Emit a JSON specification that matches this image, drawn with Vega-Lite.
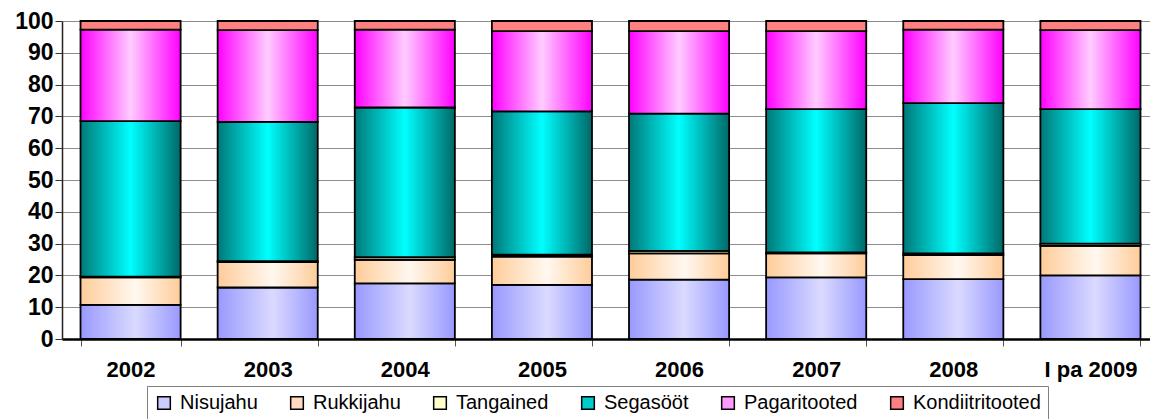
{
  "$schema": "https://vega.github.io/schema/vega-lite/v6.json",
  "autosize": {"type": "none"},
  "padding": {"left": 62, "top": 21, "right": 0, "bottom": 80},
  "width": 1088,
  "height": 318,
  "background": "white",
  "config": {
    "view": {"stroke": null},
    "font": "Liberation Sans"
  },
  "datasets": {
    "shares": [
      {"year": "2002", "series": "Nisujahu", "value": 10.7},
      {"year": "2002", "series": "Rukkijahu", "value": 8.7},
      {"year": "2002", "series": "Tangained", "value": 0.2},
      {"year": "2002", "series": "Segasööt", "value": 48.9},
      {"year": "2002", "series": "Pagaritooted", "value": 28.8},
      {"year": "2002", "series": "Kondiitritooted", "value": 2.7},
      {"year": "2003", "series": "Nisujahu", "value": 16.2},
      {"year": "2003", "series": "Rukkijahu", "value": 8.0},
      {"year": "2003", "series": "Tangained", "value": 0.3},
      {"year": "2003", "series": "Segasööt", "value": 43.8},
      {"year": "2003", "series": "Pagaritooted", "value": 28.8},
      {"year": "2003", "series": "Kondiitritooted", "value": 2.9},
      {"year": "2004", "series": "Nisujahu", "value": 17.5},
      {"year": "2004", "series": "Rukkijahu", "value": 7.4},
      {"year": "2004", "series": "Tangained", "value": 0.8},
      {"year": "2004", "series": "Segasööt", "value": 47.1},
      {"year": "2004", "series": "Pagaritooted", "value": 24.5},
      {"year": "2004", "series": "Kondiitritooted", "value": 2.7},
      {"year": "2005", "series": "Nisujahu", "value": 17.0},
      {"year": "2005", "series": "Rukkijahu", "value": 8.9},
      {"year": "2005", "series": "Tangained", "value": 0.6},
      {"year": "2005", "series": "Segasööt", "value": 45.1},
      {"year": "2005", "series": "Pagaritooted", "value": 25.2},
      {"year": "2005", "series": "Kondiitritooted", "value": 3.2},
      {"year": "2006", "series": "Nisujahu", "value": 18.7},
      {"year": "2006", "series": "Rukkijahu", "value": 8.2},
      {"year": "2006", "series": "Tangained", "value": 0.8},
      {"year": "2006", "series": "Segasööt", "value": 43.2},
      {"year": "2006", "series": "Pagaritooted", "value": 25.9},
      {"year": "2006", "series": "Kondiitritooted", "value": 3.2},
      {"year": "2007", "series": "Nisujahu", "value": 19.4},
      {"year": "2007", "series": "Rukkijahu", "value": 7.5},
      {"year": "2007", "series": "Tangained", "value": 0.3},
      {"year": "2007", "series": "Segasööt", "value": 45.1},
      {"year": "2007", "series": "Pagaritooted", "value": 24.5},
      {"year": "2007", "series": "Kondiitritooted", "value": 3.2},
      {"year": "2008", "series": "Nisujahu", "value": 18.8},
      {"year": "2008", "series": "Rukkijahu", "value": 7.6},
      {"year": "2008", "series": "Tangained", "value": 0.5},
      {"year": "2008", "series": "Segasööt", "value": 47.3},
      {"year": "2008", "series": "Pagaritooted", "value": 23.1},
      {"year": "2008", "series": "Kondiitritooted", "value": 2.7},
      {"year": "I pa 2009", "series": "Nisujahu", "value": 20.0},
      {"year": "I pa 2009", "series": "Rukkijahu", "value": 9.3},
      {"year": "I pa 2009", "series": "Tangained", "value": 0.7},
      {"year": "I pa 2009", "series": "Segasööt", "value": 42.3},
      {"year": "I pa 2009", "series": "Pagaritooted", "value": 24.8},
      {"year": "I pa 2009", "series": "Kondiitritooted", "value": 2.9}
    ],
    "seriesOrder": [
      {"series": "Nisujahu", "rank": 1},
      {"series": "Rukkijahu", "rank": 2},
      {"series": "Tangained", "rank": 3},
      {"series": "Segasööt", "rank": 4},
      {"series": "Pagaritooted", "rank": 5},
      {"series": "Kondiitritooted", "rank": 6}
    ]
  },
  "data": {"name": "shares"},
  "transform": [
    {
      "lookup": "series",
      "from": {"data": {"name": "seriesOrder"}, "key": "series", "fields": ["rank"]}
    },
    {
      "stack": "value",
      "groupby": ["year"],
      "sort": [{"field": "rank", "order": "ascending"}],
      "as": ["y0", "y1"]
    }
  ],
  "encoding": {
    "x": {
      "field": "year",
      "type": "nominal",
      "sort": null,
      "title": null,
      "scale": {"paddingInner": 0.27, "range": [0, 1097]},
      "axis": {
        "labelAngle": 0,
        "labelFont": "Liberation Sans",
        "labelFontSize": 22,
        "labelFontWeight": "bold",
        "labelColor": "black",
        "labelPadding": 13,
        "tickBand": "extent",
        "tickSize": 7,
        "tickColor": "#555555",
        "domainColor": "black",
        "domainWidth": 2.5
      }
    },
    "y": {
      "field": "y0",
      "type": "quantitative",
      "title": null,
      "scale": {"domain": [0, 100], "nice": false},
      "axis": {
        "values": [0, 10, 20, 30, 40, 50, 60, 70, 80, 90, 100],
        "labelFont": "Liberation Sans",
        "labelFontSize": 23,
        "labelFontWeight": "bold",
        "labelColor": "black",
        "labelPadding": 2,
        "tickSize": 7,
        "tickColor": "#333333",
        "domainColor": "#222222",
        "domainWidth": 1.5,
        "gridColor": "#8c8c8c",
        "gridWidth": 1
      }
    },
    "y2": {"field": "y1"}
  },
  "layer": [
    {
      "mark": {"type": "bar"},
      "encoding": {
        "fill": {
          "field": "series",
          "type": "nominal",
          "scale": {
            "domain": ["Nisujahu", "Rukkijahu", "Tangained", "Segasööt", "Pagaritooted", "Kondiitritooted"],
            "range": ["#ccccff", "#ffdcc0", "#ffffcc", "#00cccc", "#ff99ff", "#ff8080"]
          },
          "legend": {
            "title": null,
            "orient": "none",
            "legendX": 85,
            "legendY": 365,
            "direction": "horizontal",
            "columns": 6,
            "padding": 7,
            "strokeColor": "#808080",
            "fillColor": "white",
            "labelFont": "Liberation Sans",
            "labelFontSize": 20,
            "labelColor": "black",
            "labelOffset": 6,
            "columnPadding": 29,
            "symbolType": "square",
            "symbolSize": 160,
            "symbolStrokeColor": "black",
            "symbolStrokeWidth": 1.5,
            "symbolOpacity": 1
          }
        }
      }
    },
    {
      "mark": {"type": "bar", "stroke": "black", "strokeWidth": 1.8},
      "encoding": {
        "fill": {
          "condition": [
            {
              "test": "datum.series === 'Nisujahu'",
              "value": {"gradient": "linear", "x1": 0, "y1": 0, "x2": 1, "y2": 0,
                "stops": [{"offset": 0, "color": "#9999ff"}, {"offset": 0.55, "color": "#dadaff"}, {"offset": 1, "color": "#9999ff"}]}
            },
            {
              "test": "datum.series === 'Rukkijahu'",
              "value": {"gradient": "linear", "x1": 0, "y1": 0, "x2": 1, "y2": 0,
                "stops": [{"offset": 0, "color": "#ffcc99"}, {"offset": 0.55, "color": "#fff8f0"}, {"offset": 1, "color": "#ffcc99"}]}
            },
            {
              "test": "datum.series === 'Tangained'",
              "value": {"gradient": "linear", "x1": 0, "y1": 0, "x2": 1, "y2": 0,
                "stops": [{"offset": 0, "color": "#ffff99"}, {"offset": 0.55, "color": "#ffffee"}, {"offset": 1, "color": "#ffff99"}]}
            },
            {
              "test": "datum.series === 'Segasööt'",
              "value": {"gradient": "linear", "x1": 0, "y1": 0, "x2": 1, "y2": 0,
                "stops": [{"offset": 0, "color": "#007878"}, {"offset": 0.5, "color": "#00ffff"}, {"offset": 1, "color": "#006868"}]}
            },
            {
              "test": "datum.series === 'Pagaritooted'",
              "value": {"gradient": "linear", "x1": 0, "y1": 0, "x2": 1, "y2": 0,
                "stops": [{"offset": 0, "color": "#ff00ff"}, {"offset": 0.5, "color": "#ffccff"}, {"offset": 1, "color": "#ff00ff"}]}
            }
          ],
          "value": "#ff8080"
        }
      }
    }
  ]
}
